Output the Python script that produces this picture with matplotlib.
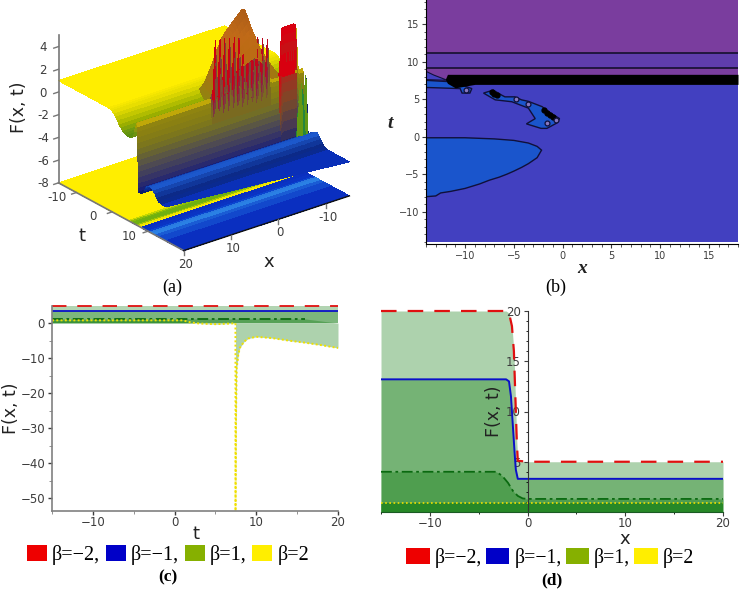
import numpy as np
import matplotlib
matplotlib.use("Agg")
import matplotlib.pyplot as plt
from matplotlib.colors import to_rgba, LinearSegmentedColormap
from matplotlib.patches import Patch
from matplotlib.ticker import MultipleLocator
from mpl_toolkits.mplot3d import proj3d

W, H = 740, 589
SERIF = "Liberation Serif"
TICK = "#3c3c3c"

# ---------- panel (a) values ----------
t_rows = [-15, -8, -4, -1, -0.5, 0, 0.5, 1, 1.5, 2, 2.5, 3, 3.5, 4, 4.5, 5, 5.5, 6, 6.25, 6.5, 6.75, 7.0,
          7.03, 7.06, 7.09, 7.12, 7.15, 7.18, 7.21, 7.24, 7.27, 7.3, 7.33, 7.36, 7.39, 8, 8.5, 9, 9.25, 9.5,
          10, 10.5, 11, 11.5, 12, 12.5, 13, 14, 20]
z_rows = [1, 1, 1, 1, 0.95, 0.9, 0.7, 0.5, 0.25, 0, -0.2, -0.4, -0.5, -0.6, -0.6, -0.6, -0.5, -0.3, 0.1, 0.5, 0.8, 1.0,
          0.7, 0.3, -0.2, -0.7, -1.2, -1.7, -2.2, -2.7, -3.2, -3.7, -4.2, -4.6, -5, -5, -4.9, -4.6, -4.4, -4.2,
          -4.1, -4.0, -4.0, -4.2, -4.4, -4.7, -4.9, -5, -5]
row_colors = ["#ffee00", "#ffee00", "#ffee00", "#f8e800", "#f0e400", "#e8de00", "#d8d400", "#c4c800", "#b0bc00",
              "#9aae00", "#84a408", "#6f9a10", "#659410", "#5c8f10", "#5c8f10", "#5c8f10", "#648f10", "#6e9410",
              "#889810", "#a49c00", "#b4a204", "#c0a808",
              "#8f8410", "#8a8012", "#847c16", "#7c761c", "#726e26", "#666234", "#5a5644", "#4e4a52", "#42405c",
              "#363466", "#28296e", "#1a2076", "#0c1a70", "#0a1c60", "#0a2070", "#0a2a90", "#0c3498", "#1040b0",
              "#164ac0", "#1a55c8", "#1c58cc", "#1646b0", "#10369a", "#0c2a88", "#0a2a90", "#0a30b8", "#0a34c8"]
x_cols = [-15, -14.5, -14, -13.5, -13, -12.5, -12, -11.5, -11, -10.5, -10, -9.5, -9, -8.5, -8, -7.5,
          -7, -6.5, -6, -5.5, -5, -4.5, -4, -3.5, -3, -2.5, -2, -1.5, -1, -0.5, 0, 0.5, 1, 1.5,
          2, 2.5, 3, 3.5, 4, 4.5, 5, 10, 15, 20]
rim_lift = [0, 0, 0, 4.1, 4.2, 4.2, 4.2, 4.2, 4.2, 4.1, 0, 0, 0, 0, 0.2, 3.6, 0.3, 3.8, 0.4, 4.0,
            0.3, 4.1, 0.5, 4.2, 0.3, 4.4, 0.5, 4.5, 0.4, 4.7, 0.6, 4.8, 0.4, 4.9, 0.5, 5.0, 0.4, 5.0,
            0.6, 0, 0, 0, 0, 0]
block_cols = [3, 4, 5, 6, 7, 8, 9]
comb_frac = [1, 0.8, 0.6, 0.4, 0.2, 0, 0, 0, 0, 0, 0, 0, 0, 0]
block_frac = [1, 0.92, 0.83, 0.75, 0.67, 0.58, 0.5, 0.42, 0.33, 0.25, 0.17, 0.08, 0, 0]
comb_lift = [0, 5.6, 3.5, 5.7, 3.8, 0, 0, 0, 0, 0, 0, 0, 0, 0, 0, 0, 0, 0, 0, 0,
             0, 0, 0, 0, 0, 0, 0, 0, 0, 0, 0, 0, 0, 0, 0, 0, 0, 0, 0, 0, 0, 0, 0, 0]
pyr_col = [0, 0, 0, 0, 0, 0, 0, 0, 0, 0.08, 0.17, 0.25, 0.33, 0.42, 0.5, 0.58, 0.67, 0.75, 0.83, 0.92,
           1, 0.97, 0.94, 0.91, 0.87, 0.84, 0.81, 0.76, 0.68, 0.58, 0.45, 0.32, 0.2, 0.1, 0.04, 0, 0,
           0, 0, 0, 0, 0, 0, 0]
pyr_rows = {1: 3.5, 1.5: 5.0, 2: 6.0, 2.5: 6.7, 3: 7.2, 3.5: 7.5, 4: 7.6, 4.5: 7.2, 5: 6.8, 5.5: 6.2, 6: 5.5,
            6.25: 5.0, 6.5: 4.0, 6.75: 2.5}
base_t = [-15, 3.5, 4.5, 5, 5.5, 6, 6.8, 7.2, 7.8, 8, 9, 10, 10.5, 11, 12, 13, 15, 20]
base_colors = ["#ffee00", "#ffee00", "#c8d800", "#8cbc08", "#70b010", "#70b010", "#a0c404", "#f0e400", "#ffee00",
               "#0a30c0", "#0a34c4", "#0a44d0", "#2a7ae0", "#2a80e4", "#1a5cd4", "#1248cc", "#0a2fc0", "#0a28b4"]
front_t = [20, 15]
a_xticks = [-10, 0, 10, 20]
a_tticks = [-10, 0, 10]
a_zticks = [-8, -6, -4, -2, 0, 2, 4]

# ---------- panel (b) values ----------
blob_x = [-14, -10, -7, -5, -3.5, -2.6, -2.15, -2.6, -3.5, -4.2, -5, -5.7, -6.5, -7.5, -8.5, -10, -11.5, -12.5, -13, -14]
blob_t = [-0.15, -0.15, -0.3, -0.5, -0.85, -1.3, -1.8, -2.8, -3.6, -4.1, -4.6, -5.0, -5.4, -5.8, -6.3, -6.9, -7.3, -7.5, -7.9, -8]
cres_x = [-8.1, -7.1, -6.2, -5.9, -4.9, -4.2, -3.5, -2.1, -1.3, -0.3, -0.6, -1.6, -2.2, -3.7, -2.8, -3.5, -5.2, -6.9]
cres_t = [5.8, 6.2, 5.5, 5.3, 5.3, 4.9, 4.7, 4, 3.2, 2.4, 1.8, 1.1, 1.1, 1.7, 2.4, 3.8, 4.65, 4.9]
left_x = [-14, -10.5, -10.3, -9.5, -9.3, -11.3, -14]
left_t = [6.55, 6.4, 5.8, 5.8, 6.4, 7.3, 7.5]
tip_x = [-14, -13.2, -11.8, -14]
tip_t = [8.7, 8.2, 7.5, 7.6]
band_x = [-12, -11.8, -11, -9, 18]
band_lo = [7.6, 7.1, 6.5, 6.96, 6.96]
band_hi = [7.7, 8.3, 8.3, 8.3, 8.3]
ring_x = [-9.9, -4.8, -3.5, -1.6, -0.7]
ring_t = [6.2, 5.0, 4.4, 1.8, 2.2]
spot_x = [-7.2, -7.0, -6.7, -1.9, -1.6, -1.3, -1.0]
spot_t = [6.0, 5.7, 5.5, 3.5, 3.2, 2.9, 2.6]
level_lines = [11.15, 9.15]

# ---------- panel (c) values ----------
tc = [-15, 16, 20]
c_m2 = [4.9, 4.9, 4.9]
c_m1 = [3.4, 3.4, 3.4]
c_p1_t = [-15, 16]
c_p1 = [1.2, 1.2]
c2_t = [-15, 1, 2, 3, 5, 7, 7.45, 7.46, 7.5, 7.6, 7.8, 8, 8.5, 9, 10, 12, 14, 16, 18, 20]
c2_y = [0.8, 0.8, 0.2, -0.1, -0.3, -0.1, 0, -53.7, -30, -13, -9, -7, -5.3, -4.4, -3.9, -4.3, -5, -5.6, -6.3, -7.1]

# ---------- panel (d) values ----------
d_m2_x = [-15, -2.2, -1.9, -1.6, -1.4, -1.3, -1.2, -1.1, -1.0, 0, 20]
d_m2 = [20, 20, 19.8, 18.5, 16, 13, 10, 7, 5.1, 5, 5]
d_m1_x = [-15, -2.2, -1.9, -1.7, -1.5, -1.4, -1.3, -1.2, -1.0, 0, 20]
d_m1 = [13.2, 13.2, 13, 11.5, 8.5, 7, 5.5, 4.2, 3.3, 3.3, 3.3]
d_p1_x = [-15, -3.2, -2.6, -2, -1.5, -1, -0.5, 0, 20]
d_p1 = [4, 4, 3.6, 2.9, 2.1, 1.6, 1.35, 1.3, 1.3]
d_p2_x = [-15, 20]
d_p2 = [0.85, 0.85]

legend_labels = ["β=−2,", "β=−1,", "β=1,", "β=2"]
legend_colors = ["#ee0000", "#0000c8", "#86b000", "#ffee00"]
fill_green = (0.0, 0.45, 0.0)

fig = plt.figure(figsize=(W / 100, H / 100), dpi=100)
plt.rcParams["font.family"] = "DejaVu Sans"


def rect(l, t, r, b):
    return [l / W, 1 - b / H, (r - l) / W, (b - t) / H]


def put(x, y, s, **kw):
    fig.text(x / W, 1 - y / H, s, ha="center", va="center", **kw)


# ========== (a) ==========
ax = fig.add_axes(rect(-8, -45, 407, 285), projection="3d", computed_zorder=False)
ax.patch.set_alpha(0)
ax.view_init(elev=25, azim=52)
ax.set_proj_type("ortho")
ax.set_box_aspect((213, 206, 165), zoom=0.985)
ax.set_xlim(-15, 20)
ax.set_ylim(-15, 20)
ax.set_zlim(-8, 5)
ax.set_axis_off()

xc = np.array(x_cols, float)
tr = np.array(t_rows, float)
X, T = np.meshgrid(xc, tr)
Z = np.tile(np.array(z_rows, float)[:, None], (1, len(xc)))
C = np.array([[to_rgba(c)] * len(xc) for c in row_colors])

spike_map = LinearSegmentedColormap.from_list("spike", ["#7a6a20", "#802a48", "#a81030", "#cc0012"])
block_map = LinearSegmentedColormap.from_list("block", ["#12206e", "#4a3a50", "#7a4a28", "#a03020", "#c01818", "#d80010"])
pyr_map = LinearSegmentedColormap.from_list("pyr", ["#8a8a10", "#a07810", "#b86c10", "#c06a18", "#a85a18"])
comb_map = LinearSegmentedColormap.from_list("comb", ["#0c2a80", "#107070", "#2a8a30", "#6a9a10"])

pyr = np.array(pyr_col)
for t_val, h in pyr_rows.items():
    i = t_rows.index(t_val)
    Z[i] += h * pyr
    for j in np.nonzero(pyr)[0]:
        C[i, j] = pyr_map(np.clip((Z[i, j] + 0.5) / 8, 0, 1))
i_rim = t_rows.index(7.0)
for j, lift in enumerate(rim_lift):
    if lift <= 0:
        continue
    block = j in block_cols
    fracs = block_frac if block else comb_frac
    for k, fr in enumerate(fracs):
        if fr > 0 or block:
            Z[i_rim + k, j] += lift * fr
            if block:
                C[i_rim + k, j] = block_map(np.clip((Z[i_rim + k, j] + 5) / 10.2, 0, 1))
            else:
                C[i_rim + k, j] = spike_map(np.clip((Z[i_rim + k, j] - 0.5) / 5, 0, 1))
    C[i_rim - 1, j] = C[i_rim, j]
i_comb = t_rows.index(8.5)
Z[i_comb] += np.array(comb_lift)
for j, lift in enumerate(comb_lift):
    if lift > 0:
        C[i_comb - 1, j] = comb_map(np.clip((Z[i_comb, j] + 5) / 6, 0, 1))
        C[i_comb, j] = comb_map(np.clip((Z[i_comb, j] + 5) / 6, 0, 1))
# the near edge of the raised sheet is skewed in the picture
T[-1] = np.interp(xc, [-15, 20], front_t)

bt = np.array(base_t, float)
BX, BT = np.meshgrid(xc[[0, -1]], bt)
BZ = np.full(BX.shape, -8.0)
BC = np.array([[to_rgba(c)] * 2 for c in base_colors])
ax.plot_surface(BX, BT, BZ, facecolors=BC, rstride=1, cstride=1, shade=False, linewidth=0,
                antialiased=False, zorder=1)
ax.plot_surface(X, T, Z, facecolors=C, rstride=1, cstride=1, shade=False, linewidth=0,
                antialiased=False, zorder=2)

AXC = "#777777"


def label3d(x, y, z, s):
    px, py, _ = proj3d.proj_transform(x, y, z, ax.get_proj())
    ax.text2D(px, py, s, transform=ax.transData, fontsize=8.5, color=TICK, ha="center", va="center", zorder=4)


ax.plot([20, 20], [-15, -15], [-8, 5], color=AXC, lw=1.2, zorder=3)
ax.plot([20, 20], [-15, 20], [-8, -8], color=AXC, lw=1.2, zorder=3)
ax.plot([-15, 20], [20, 20], [-8, -8], color="#111111", lw=1.0, zorder=3)
for v in a_zticks:
    ax.plot([20, 21], [-15, -15], [v, v], color=AXC, lw=1, zorder=3)
    label3d(23.2, -15, v + 0.35, str(v))
for v in a_tticks:
    ax.plot([20, 21], [v, v], [-8, -8], color=AXC, lw=1, zorder=3)
    label3d(24, v, -7.9, str(v))
for v in a_xticks:
    ax.plot([v, v], [20, 20], [-8, -8.4], color=AXC, lw=1, zorder=3)
    label3d(v, 20.5, -9.1, str(v))

put(269, 262, "x", fontsize=13, color="#222222")
put(82, 236, "t", fontsize=13, color="#222222")
put(19, 107, "F(x, t)", fontsize=12.5, rotation=90, color="#222222")
put(172, 287, "(a)", fontsize=13, family=SERIF)

# ========== (b) ==========
ax = fig.add_axes(rect(426, 0, 738, 244))
ax.set_xlim(-14, 18)
ax.set_ylim(-14.3, 18.2)
ax.fill_between([-14, 18], -14, 7, color="#4240c0", lw=0)
ax.fill_between([-14, 18], 7, 18.2, color="#7a3d9e", lw=0)
ax.fill_between([-14, 18], level_lines[1], level_lines[0], color="#5f3dac", lw=0)
for bx, bt_ in ((blob_x, blob_t), (cres_x, cres_t), (left_x, left_t)):
    ax.fill(bx, bt_, facecolor="#1a55cc", edgecolor="#10103a", lw=1)
ax.fill(tip_x, tip_t, facecolor="#4240c0", edgecolor="#10103a", lw=0.8)
ax.fill_between(band_x, band_lo, band_hi, color="black", lw=0)
ax.plot(spot_x, spot_t, "o", color="black", ms=3.5)
ax.plot(ring_x, ring_t, "o", mfc="#8878c0", mec="#10103a", ms=3.5, mew=0.9)
for lv in level_lines:
    ax.axhline(lv, color="#14102e", lw=1.2)
for s in ("top", "right"):
    ax.spines[s].set_visible(False)
ax.set_xticks([-10, -5, 0, 5, 10, 15])
ax.set_yticks([-10, -5, 0, 5, 10, 15])
ax.xaxis.set_minor_locator(MultipleLocator(1))
ax.yaxis.set_minor_locator(MultipleLocator(1))
ax.tick_params(labelsize=7, colors=TICK, length=3, width=0.8, pad=2)
ax.tick_params(which="minor", length=1.8, width=0.6, color=TICK)
put(582, 268, "x", fontsize=14, family=SERIF, style="italic", weight="bold", color="#222222")
put(390, 123, "t", fontsize=14, family=SERIF, style="italic", weight="bold", color="#222222")
put(556, 287, "(b)", fontsize=13, family=SERIF)


def legend(cx, cy, size, hl, hh, cs):
    handles = [Patch(facecolor=c, edgecolor="none") for c in legend_colors]
    fig.legend(handles, legend_labels, ncols=4, loc="center", bbox_to_anchor=(cx / W, 1 - cy / H),
               frameon=False, handlelength=hl, handleheight=hh,
               handletextpad=0.25, columnspacing=cs, borderpad=0, borderaxespad=0,
               prop={"family": SERIF, "size": size})


# ========== (c) ==========
ax = fig.add_axes(rect(52, 306, 338, 511))
ax.set_xlim(-15, 20)
ax.set_ylim(-53.7, 4.9)
for tt, yy in ((tc, c_m2), (tc, c_m1), (c_p1_t + [20], c_p1 + [0])):
    ax.fill_between(tt, 0, yy, color=fill_green, alpha=0.3, lw=0)
ax.fill_between(c2_t, 0, c2_y, color=fill_green, alpha=0.32, lw=0)
ax.plot(tc, c_m2, color="#e01010", lw=1.3, dashes=(8, 6), clip_on=False)
ax.plot(tc, c_m1, color="#0a10c8", lw=1.3)
ax.plot(c_p1_t, c_p1, color="#0a6a10", lw=1.3, dashes=(6, 2, 1.5, 2))
ax.plot(c2_t, c2_y, color="#f0e000", lw=1.4, dashes=(1, 1.2))
for s in ("top", "right"):
    ax.spines[s].set_visible(False)
for s in ("left", "bottom"):
    ax.spines[s].set_color("#808080")
    ax.spines[s].set_linewidth(1.2)
ax.set_xticks([-10, 0, 10, 20])
ax.set_yticks([-50, -40, -30, -20, -10, 0])
ax.xaxis.set_minor_locator(MultipleLocator(5))
ax.yaxis.set_minor_locator(MultipleLocator(5))
ax.tick_params(labelsize=8.5, colors=TICK, length=3, width=1, pad=2)
ax.tick_params(axis="x", pad=0.5)
ax.tick_params(which="minor", length=2, color="#808080")
put(196, 534, "t", fontsize=13, color="#222222")
put(11, 408, "F(x, t)", fontsize=12.5, rotation=90, color="#222222")
legend(168, 555, 14.5, 1.0, 0.8, 0.28)
put(168, 577, "(c)", fontsize=12.5, family=SERIF, weight="bold")

# ========== (d) ==========
ax = fig.add_axes(rect(381, 311, 723, 512))
ax.set_xlim(-15, 20)
ax.set_ylim(0, 20)
for xx, yy, al in ((d_m2_x, d_m2, 0.32), (d_m1_x, d_m1, 0.32), (d_p1_x, d_p1, 0.32), (d_p2_x, d_p2, 0.5)):
    ax.fill_between(xx, 0, yy, color=fill_green, alpha=al, lw=0)
ax.plot(d_m2_x, d_m2, color="#e01010", lw=1.6, dashes=(7, 5), clip_on=False)
ax.plot(d_m1_x, d_m1, color="#0a10c8", lw=1.4)
ax.plot(d_p1_x, d_p1, color="#0a6a10", lw=1.3, dashes=(6, 2, 1.5, 2))
ax.plot(d_p2_x, d_p2, color="#f0e000", lw=1.2, dashes=(1, 1.5))
for s in ("top", "right"):
    ax.spines[s].set_visible(False)
ax.spines["left"].set_position(("data", 0))
ax.spines["left"].set_color("#333333")
ax.spines["bottom"].set_color("#1a5a24")
ax.set_xticks([-10, 0, 10, 20])
ax.set_yticks([5, 10, 15, 20])
ax.xaxis.set_minor_locator(MultipleLocator(5))
ax.yaxis.set_minor_locator(MultipleLocator(1))
ax.tick_params(labelsize=8.5, colors=TICK, length=3, width=0.8, pad=2)
ax.tick_params(axis="x", pad=0.5)
ax.tick_params(which="minor", length=1.5)
put(625, 539, "x", fontsize=13, color="#222222")
put(494, 411, "F(x, t)", fontsize=12.5, rotation=90, color="#222222")
legend(550, 558, 14.2, 1.2, 0.85, 0.2)
put(552, 580, "(d)", fontsize=12.5, family=SERIF, weight="bold")

fig.savefig("out.png", dpi=100)
